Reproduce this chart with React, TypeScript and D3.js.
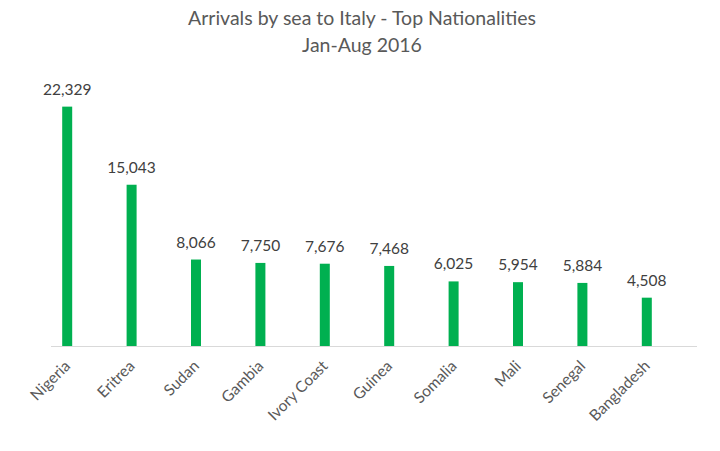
import React from "react";
import * as d3 from "d3";

const categories = ["Nigeria", "Eritrea", "Sudan", "Gambia", "Ivory Coast", "Guinea", "Somalia", "Mali", "Senegal", "Bangladesh"];
const values = [22329, 15043, 8066, 7750, 7676, 7468, 6025, 5954, 5884, 4508];
const titleLines = ["Arrivals by sea to Italy - Top Nationalities", "Jan-Aug 2016"];

const W = 720, H = 451;
const bandLeft = 35, bandRight = 679;
const axisLeft = 51, axisRight = 697;
const top = 78, bottom = 346;
const FONT = "Lato, 'Open Sans', sans-serif";

export default function App() {
  const x = d3.scaleBand<string>().domain(categories).range([bandLeft, bandRight]).paddingInner(0).paddingOuter(0);
  const y = d3.scaleLinear().domain([0, 25000]).range([bottom, top]);
  const fmt = d3.format(",");
  const barW = 10;
  return (
    <svg width={W} height={H} style={{ position: "absolute", left: 0, top: 0, background: "#fff" }}>
      <rect width={W} height={H} fill="#fff" />
      {titleLines.map((t, i) => (
        <text key={i} x={362} y={25 + i * 27} textAnchor="middle" fontFamily={FONT} fontSize={19.5} fill="#595959">{t}</text>
      ))}
      <line x1={axisLeft} x2={axisRight} y1={bottom + 0.5} y2={bottom + 0.5} stroke="#d9d9d9" strokeWidth={1} />
      {categories.map((c, i) => {
        const cx = (x(c) as number) + x.bandwidth() / 2;
        const yv = y(values[i]);
        return (
          <g key={c}>
            <rect x={cx - barW / 2} y={yv} width={barW} height={bottom - yv} fill="#00B050" />
            <text x={cx} y={yv - 12} textAnchor="middle" fontFamily={FONT} fontSize={15.5} fill="#404040">{fmt(values[i])}</text>
            <text transform={`translate(${cx + 4},${bottom + 21}) rotate(-45)`} textAnchor="end" fontFamily={FONT} fontSize={15.5} fill="#595959">{c}</text>
          </g>
        );
      })}
    </svg>
  );
}
